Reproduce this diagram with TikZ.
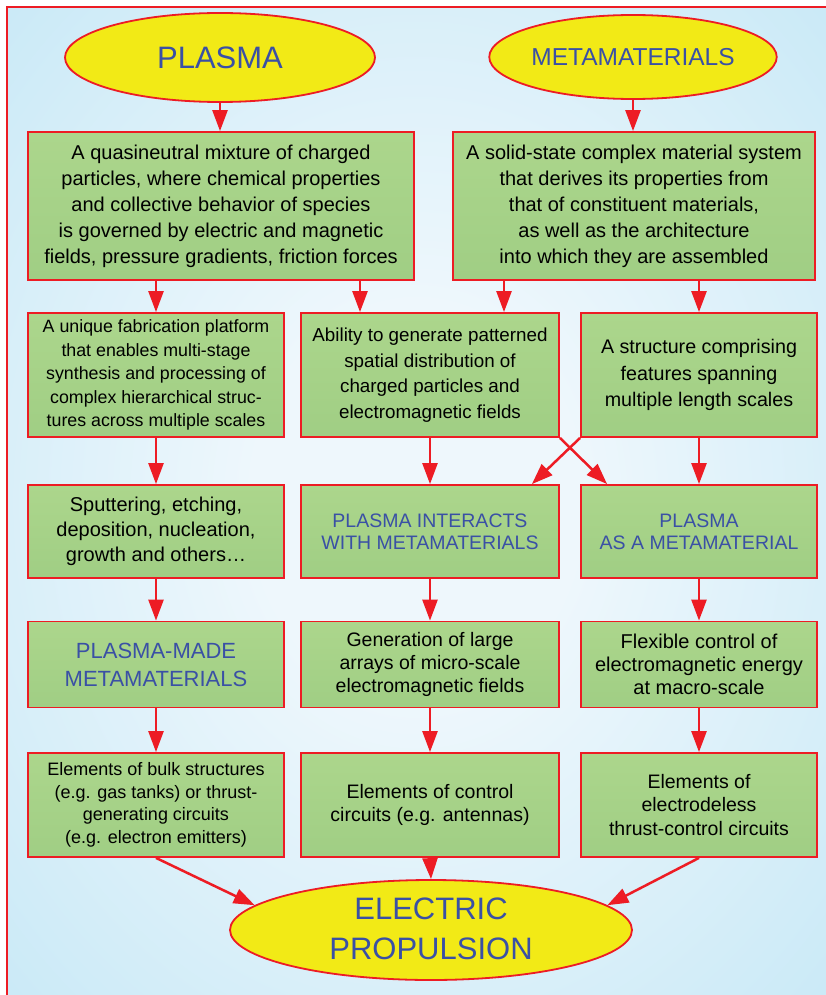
\documentclass[tikz,border=0pt]{standalone}
\usepackage{fontspec}
\setmainfont{Liberation Sans}
\usetikzlibrary{arrows.meta,calc,shapes.geometric}
\definecolor{redc}{RGB}{237,28,36}
\definecolor{greentop}{RGB}{172,214,140}
\definecolor{greenbot}{RGB}{160,206,132}
\definecolor{yellowc}{RGB}{242,234,22}
\definecolor{bluet}{RGB}{58,80,165}
\definecolor{bgin}{RGB}{238,247,252}
\definecolor{bgmid}{RGB}{182,226,244}
\definecolor{bgout}{RGB}{138,210,238}
\pgfdeclareradialshading{bgshade}{\pgfpoint{0bp}{0bp}}{color(0bp)=(bgin); color(10bp)=(bgin); color(50bp)=(bgmid); color(71bp)=(bgout)}
\begin{document}
\begin{tikzpicture}[x=1pt,y=-1pt,
  box/.style={draw=redc, line width=1.8pt, top color=greentop, bottom color=greenbot,
    inner sep=0pt, align=center, text=black},
  ell/.style={draw=redc, line width=1.8pt, fill=yellowc, ellipse, inner sep=0pt,
    align=center, text=bluet},
  btext/.style={text=bluet},
  colA/.style={minimum width=256pt},
  colB/.style={minimum width=258pt},
  colC/.style={minimum width=236pt},
  arr/.style={draw=redc, line width=2.5pt, -{Triangle[length=21pt,width=15pt]}}
]
\useasboundingbox (0,0) rectangle (826,995);
\fill[white] (0,0) rectangle (826,995);
\shade[shading=bgshade] (7,7) rectangle (826,995);
\draw[redc, line width=1.5pt] (7,1010) -- (7,7) -- (840,7);

% ellipses
\node[ell, minimum width=310pt, minimum height=89pt, font=\fontsize{31}{36}\selectfont] (PL) at (220,57.5) {PLASMA};
\node[ell, minimum width=260pt, minimum height=84pt, font=\fontsize{24.5}{30}\selectfont] (MM) at (633,57) {METAMATERIALS};

% row 1
\node[box, minimum width=386pt, minimum height=148pt, font=\fontsize{20}{26}\selectfont] (box1) at (221,206)
 {A quasineutral mixture of charged\\particles, where chemical properties\\and collective behavior of species\\is governed by electric and magnetic\\fields, pressure gradients, friction forces};
\node[box, minimum width=362pt, minimum height=148pt, font=\fontsize{20}{26}\selectfont] (box2) at (634,206)
 {A solid-state complex material system\\that derives its properties from\\that of constituent materials,\\as well as the architecture\\into which they are assembled};

% row 2
\node[box, colA, minimum height=124pt, font=\fontsize{17.8}{23.5}\selectfont] (A2) at (156,375)
 {A unique fabrication platform\\that enables multi-stage\\synthesis and processing of\\complex hierarchical struc-\\tures across multiple scales};
\node[box, colB, minimum height=124pt, font=\fontsize{18.8}{25.5}\selectfont] (B2) at (430,375)
 {Ability to generate patterned\\spatial distribution of\\charged particles and\\electromagnetic fields};
\node[box, colC, minimum height=124pt, font=\fontsize{19.7}{26.5}\selectfont] (C2) at (699,375)
 {A structure comprising\\features spanning\\multiple length scales};

% row 3
\node[box, colA, minimum height=93pt, font=\fontsize{20}{25}\selectfont] (A3) at (156,531.5)
 {Sputtering, etching,\\deposition, nucleation,\\growth and others…};
\node[box, colB, minimum height=93pt, btext, font=\fontsize{19.5}{22}\selectfont] (B3) at (430,531.5)
 {PLASMA INTERACTS\\WITH METAMATERIALS};
\node[box, colC, minimum height=93pt, btext, font=\fontsize{19.5}{22}\selectfont] (C3) at (699,531.5)
 {PLASMA\\AS A METAMATERIAL};

% row 4
\node[box, colA, minimum height=86pt, btext, font=\fontsize{22}{28}\selectfont] (A4) at (156,664.5)
 {PLASMA-MADE\\METAMATERIALS};
\node[box, colB, minimum height=86pt, font=\fontsize{19.5}{23}\selectfont] (B4) at (430,664.5)
 {Generation of large\\arrays of micro-scale\\electromagnetic fields};
\node[box, colC, minimum height=86pt, font=\fontsize{20}{23}\selectfont] (C4) at (699,664.5)
 {Flexible control of\\electromagnetic energy\\at macro-scale};

% row 5
\node[box, colA, minimum height=104pt, font=\fontsize{18}{22.5}\selectfont] (A5) at (156,805)
 {Elements of bulk structures\\(e.g. gas tanks) or thrust-\\generating circuits\\(e.g. electron emitters)};
\node[box, colB, minimum height=104pt, font=\fontsize{19.5}{23}\selectfont] (B5) at (430,805)
 {Elements of control\\circuits (e.g. antennas)};
\node[box, colC, minimum height=104pt, font=\fontsize{19.5}{23.5}\selectfont] (C5) at (699,805)
 {Elements of\\electrodeless\\thrust-control circuits};

% bottom ellipse
\node[ell, minimum width=402pt, minimum height=100pt, font=\fontsize{31}{40}\selectfont] (EP) at (431,930)
 {\raisebox{3pt}{ELECTRIC}\\\raisebox{3pt}{PROPULSION}};

% arrows
\coordinate (xb1) at (360,0);
\coordinate (xb2) at (504,0);
\draw[arr] (PL.south) -- (PL.south |- box1.north);
\draw[arr] (MM.south) -- (MM.south |- box2.north);
\draw[arr] (box1.south -| A2.north) -- (A2.north);
\draw[arr] (box1.south -| xb1) -- (B2.north -| xb1);
\draw[arr] (box2.south -| xb2) -- (B2.north -| xb2);
\draw[arr] (box2.south -| C2.north) -- (C2.north);

\draw[arr] (A2.south) -- (A3.north);
\draw[arr] (B2.south) -- (B3.north);
\draw[arr] (C2.south) -- (C3.north);
\draw[arr] (B2.south east) -- ($(C3.north west)+(27,0)$);
\draw[arr] (C2.south west) -- ($(B3.north east)+(-28,0)$);

\draw[arr] (A3.south) -- (A4.north);
\draw[arr] (B3.south) -- (B4.north);
\draw[arr] (C3.south) -- (C4.north);

\draw[arr] (A4.south) -- (A5.north);
\draw[arr] (B4.south) -- (B5.north);
\draw[arr] (C4.south) -- (C5.north);

\draw[arr] (A5.south) -- (EP.172);
\draw[arr] (B5.south) -- (EP.north);
\draw[arr] (C5.south) -- (EP.8);
\end{tikzpicture}
\end{document}
